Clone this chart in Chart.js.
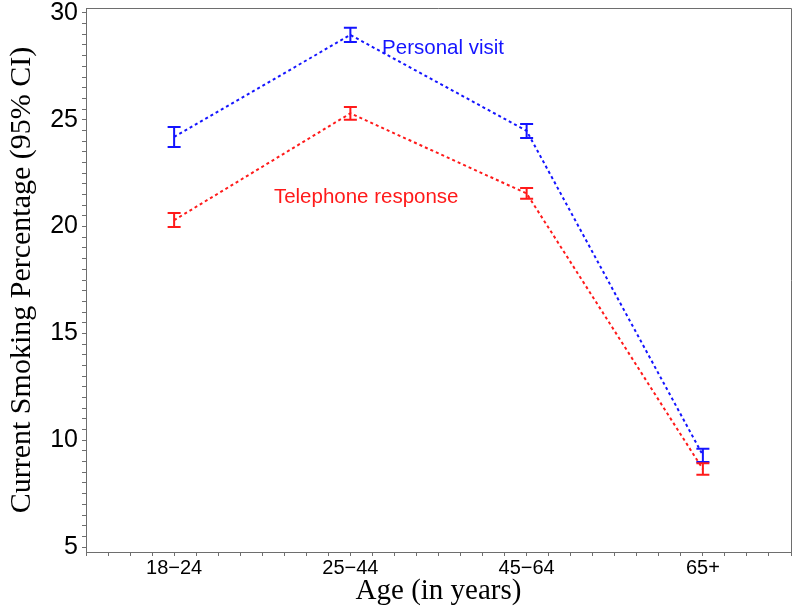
<!DOCTYPE html>
<html>
<head>
<meta charset="utf-8">
<script src="https://cdn.jsdelivr.net/npm/chart.js@4/dist/chart.umd.min.js"></script>
<style>
  html, body { margin: 0; padding: 0; background: #ffffff; }
  #wrap { width: 800px; height: 609px; }
</style>
</head>
<body>
<div id="wrap"><canvas id="c" width="800" height="609"></canvas></div>
<script>
// ---- data ----
const categories = ['18\u221224', '25\u221244', '45\u221264', '65+'];
const personalVisit = [24.2, 28.97, 24.48, 9.3];
const personalLow   = [23.73, 28.64, 24.15, 8.98];
const personalHigh  = [24.66, 29.3, 24.8, 9.6];
const telephone     = [20.3, 25.3, 21.55, 8.65];
const telephoneLow  = [19.98, 25.0, 21.3, 8.38];
const telephoneHigh = [20.63, 25.6, 21.8, 8.92];
const seriesNames   = ['Personal visit', 'Telephone response'];
const yTickMajor = 5;     // labelled every 5
const yTickMinor = 0.5;   // minor tick marks
const yMin = 4.77, yMax = 30.23;
const xTickMinor = 0.125;

const BLUE = '#1414ff';
const RED = '#ff1a1a';
const AXIS = '#6e6e6e';

function pts(arr) { return arr.map((v, i) => ({ x: i, y: v })); }

const errorBars = {
  id: 'errorBars',
  afterDatasetsDraw(chart, args, opts) {
    const ctx = chart.ctx;
    const ys = chart.scales.y, xs = chart.scales.x;
    chart.data.datasets.forEach(ds => {
      ctx.save();
      ctx.strokeStyle = ds.borderColor;
      ctx.lineWidth = 2;
      ds.data.forEach((p, i) => {
        const x = xs.getPixelForValue(p.x);
        const y1 = ys.getPixelForValue(ds.errLow[i]);
        const y2 = ys.getPixelForValue(ds.errHigh[i]);
        const w = opts.capHalf;
        ctx.beginPath();
        ctx.moveTo(x, y1); ctx.lineTo(x, y2);
        ctx.moveTo(x - w, y1); ctx.lineTo(x + w, y1);
        ctx.moveTo(x - w, y2); ctx.lineTo(x + w, y2);
        ctx.stroke();
      });
      ctx.restore();
    });
  }
};

const seriesLabels = {
  id: 'seriesLabels',
  afterDatasetsDraw(chart, args, opts) {
    const ctx = chart.ctx;
    const ys = chart.scales.y, xs = chart.scales.x;
    ctx.save();
    ctx.font = opts.font;
    ctx.textAlign = 'left';
    ctx.textBaseline = 'middle';
    opts.items.forEach(it => {
      ctx.fillStyle = it.color;
      ctx.fillText(it.text, xs.getPixelForValue(it.x), ys.getPixelForValue(it.y));
    });
    ctx.restore();
  }
};

const frame = {
  id: 'frame',
  afterDraw(chart) {
    const { ctx, chartArea: a } = chart;
    ctx.save();
    ctx.strokeStyle = AXIS;
    ctx.lineWidth = 1;
    ctx.beginPath();
    ctx.moveTo(a.left, a.top + 0.5);
    ctx.lineTo(a.right + 0.5, a.top + 0.5);
    ctx.lineTo(a.right + 0.5, a.bottom);
    ctx.stroke();
    ctx.restore();
  }
};

new Chart(document.getElementById('c'), {
  type: 'line',
  data: {
    datasets: [
      {
        label: seriesNames[0],
        data: pts(personalVisit),
        errLow: personalLow, errHigh: personalHigh,
        borderColor: BLUE, backgroundColor: BLUE,
        borderWidth: 2, borderDash: [3, 3],
        pointRadius: 0, fill: false, tension: 0
      },
      {
        label: seriesNames[1],
        data: pts(telephone),
        errLow: telephoneLow, errHigh: telephoneHigh,
        borderColor: RED, backgroundColor: RED,
        borderWidth: 2, borderDash: [3, 3],
        pointRadius: 0, fill: false, tension: 0
      }
    ]
  },
  options: {
    responsive: false,
    animation: false,
    devicePixelRatio: 1,
    layout: { padding: { left: 0, right: 9, top: 8, bottom: 0 } },
    plugins: {
      legend: { display: false },
      tooltip: { enabled: false },
      errorBars: { capHalf: 6.5 },
      seriesLabels: {
        font: '20.5px "Liberation Sans", Arial, sans-serif',
        items: [
          { text: seriesNames[0], color: BLUE, x: 1.18, y: 28.36 },
          { text: seriesNames[1], color: RED, x: 0.566, y: 21.39 }
        ]
      }
    },
    scales: {
      x: {
        type: 'linear',
        min: -0.5, max: 3.5,
        afterBuildTicks(scale) {
          const t = [];
          for (let v = -0.5; v <= 3.5 + 1e-9; v += xTickMinor) t.push({ value: Math.round(v * 1000) / 1000 });
          scale.ticks = t;
        },
        afterFit(scale) { scale.height = 57; scale.paddingLeft = 0; scale.paddingRight = 0; },
        grid: { drawOnChartArea: false, drawTicks: true, tickLength: 4, color: AXIS, tickColor: AXIS, lineWidth: 1 },
        border: { display: true, color: AXIS, width: 1 },
        ticks: {
          autoSkip: false, maxRotation: 0, minRotation: 0, padding: 0,
          color: '#000',
          font: { family: '"Liberation Sans", Arial, sans-serif', size: 20 },
          callback(v) {
            return Number.isInteger(v) && v >= 0 && v < categories.length ? categories[v] : '';
          }
        },
        title: {
          display: true, text: 'Age (in years)', color: '#000',
          font: { family: '"Liberation Serif", "Times New Roman", serif', size: 29 },
          padding: { top: 1, bottom: 0 }
        }
      },
      y: {
        type: 'linear',
        min: yMin, max: yMax,
        afterBuildTicks(scale) {
          const t = [];
          for (let v = 5; v <= 30 + 1e-9; v += yTickMinor) t.push({ value: Math.round(v * 100) / 100 });
          scale.ticks = t;
        },
        afterFit(scale) { scale.width = 86; scale.paddingTop = 0; scale.paddingBottom = 0; },
        grid: { drawOnChartArea: false, drawTicks: true, tickLength: 4, color: AXIS, tickColor: AXIS, lineWidth: 1 },
        border: { display: true, color: AXIS, width: 1 },
        ticks: {
          autoSkip: false, padding: 4, color: '#000',
          font: { family: '"Liberation Sans", Arial, sans-serif', size: 25 },
          callback(v) { return (Math.abs(v % yTickMajor) < 1e-9) ? String(v) : ''; }
        },
        title: {
          display: true, text: 'Current Smoking Percentage (95% CI)', color: '#000',
          font: { family: '"Liberation Serif", "Times New Roman", serif', size: 30 },
          padding: { top: 4, bottom: 0 }
        }
      }
    }
  },
  plugins: [errorBars, seriesLabels, frame]
});
</script>
</body>
</html>
